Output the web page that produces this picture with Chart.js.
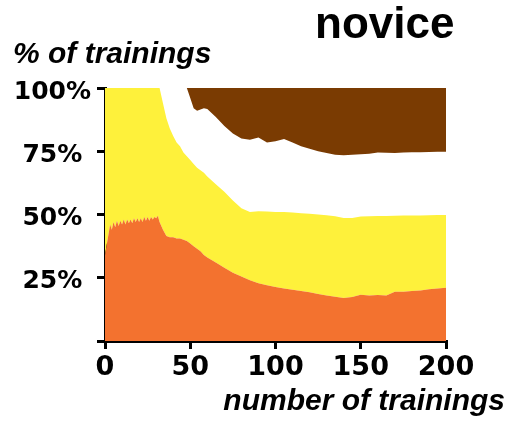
<!DOCTYPE html>
<html>
<head>
<meta charset="utf-8">
<script src="https://cdn.jsdelivr.net/npm/chart.js@4/dist/chart.umd.min.js"></script>
<style>
  html, body { margin: 0; padding: 0; background: #ffffff; }
  #wrap { width: 510px; height: 422px; }
</style>
</head>
<body>
<div id="wrap"><canvas id="c" width="510" height="422"></canvas></div>
<script>
// x positions (number of trainings)
const xs = [
  0,1,2,3,4,5,6,7,8,9,10,11,12,13,14,15,16,17,18,19,20,21,22,23,24,25,26,27,28,29,30,31,32,
  34,36,38,40,42,44,46,48,50,52,54,56,58,60,
  65,70,75,80,85,90,95,100,105,110,115,120,125,130,135,140,145,150,155,160,165,170,175,180,185,190,195,200
];
// upper boundary of the orange band (%)
const orangeTop = [
  34,38,42,46,44,47,45,47.5,45.5,47.5,46,48,46,48,46.5,48,46.5,48.5,47,48.5,47,48.5,47,49,47.5,49,47.5,49,48,49,48.5,49.5,47,
  44,41.5,41,41,40.5,40.5,40,39.5,38.5,37.5,36.5,35.5,34,33,
  31,29,27,25.5,24,22.8,22,21.3,20.8,20.3,19.8,19.3,18.6,18,17.5,17,17.4,18.3,18,18.2,18,19.5,19.5,19.8,20,20.5,20.8,21
];
// upper boundary of the yellow band (%)
const yellowTop = [
  100,100,100,100,100,100,100,100,100,100,100,100,100,100,100,100,100,100,100,100,100,100,100,100,100,100,100,100,100,100,100,100,100,
  94,88,84,81,78.5,77,74.5,73,71.5,70,68.5,67.5,66.5,65,
  62,59,55.5,52.5,51,51.3,51.2,51,51,50.8,50.5,50.3,50,49.7,49.3,48.6,48.6,49.2,49.3,49.4,49.4,49.5,49.6,49.6,49.6,49.7,49.8,49.8
];
// upper boundary of the white band = lower edge of the brown band (%)
const whiteTop = [
  100,100,100,100,100,100,100,100,100,100,100,100,100,100,100,100,100,100,100,100,100,100,100,100,100,100,100,100,100,100,100,100,100,
  100,100,100,100,100,100,100,100,96,92,91,91.5,92,91.7,
  88.5,85,82,80,79.5,80.4,78.5,79,79.8,78.5,77,76,75,74.3,73.6,73.4,73.6,73.8,74,74.5,74.4,74.3,74.5,74.6,74.6,74.7,74.8,74.8
];
const xTicks = [0, 50, 100, 150, 200];
const yTicks = [0, 25, 50, 75, 100];

const ORANGE = '#F3722F';
const YELLOW = '#FEF13B';
const BROWN = '#7A3B02';

const pts = arr => xs.map((x, i) => ({ x: x, y: arr[i] }));

const textPlugin = {
  id: 'texts',
  afterDraw(chart) {
    const ctx = chart.ctx;
    ctx.save();
    ctx.fillStyle = '#000';
    ctx.textBaseline = 'alphabetic';
    ctx.font = 'bold 44px "Liberation Sans", Arial, sans-serif';
    ctx.textAlign = 'left';
    ctx.fillText('novice', 315, 38);
    ctx.font = 'italic bold 30px "Liberation Sans", Arial, sans-serif';
    ctx.fillText('% of trainings', 13, 63);
    ctx.textAlign = 'right';
    ctx.fillText('number of trainings', 505, 410);
    ctx.restore();
  }
};

new Chart(document.getElementById('c'), {
  type: 'line',
  data: {
    datasets: [
      { data: pts(orangeTop), fill: 'origin', backgroundColor: ORANGE, borderWidth: 0, pointRadius: 0 },
      { data: pts(yellowTop), fill: '-1', backgroundColor: YELLOW, borderWidth: 0, pointRadius: 0 },
      { data: pts(whiteTop), fill: 'end', backgroundColor: BROWN, borderWidth: 0, pointRadius: 0 }
    ]
  },
  options: {
    responsive: false,
    animation: false,
    events: [],
    layout: { padding: { top: 88, right: 64, bottom: 0, left: 0 } },
    plugins: { legend: { display: false }, tooltip: { enabled: false }, title: { display: false } },
    elements: { line: { tension: 0 } },
    scales: {
      x: {
        type: 'linear', min: 0, max: 200,
        afterBuildTicks: s => { s.ticks = xTicks.map(v => ({ value: v })); },
        afterFit: s => { s.height = 81; },
        grid: { display: true, drawOnChartArea: false, drawTicks: true, tickLength: 8, color: '#000', lineWidth: 3 },
        border: { display: true, color: '#000', width: 3 },
        ticks: { color: '#000', padding: 3, maxRotation: 0, font: { family: '"DejaVu Sans"', weight: 'bold', size: 27 } }
      },
      y: {
        min: 0, max: 100,
        afterBuildTicks: s => { s.ticks = yTicks.map(v => ({ value: v })); },
        afterFit: s => { s.width = 105; },
        grid: { display: true, drawOnChartArea: false, drawTicks: true, tickLength: 8, color: '#000', lineWidth: 3 },
        border: { display: true, color: '#000', width: 3 },
        ticks: {
          color: '#000', padding: 6, crossAlign: 'center', labelOffset: 4,
          font: { family: '"DejaVu Sans"', weight: 'bold', size: 25 },
          callback: v => (v === 0 ? '' : v + '%')
        }
      }
    }
  },
  plugins: [textPlugin]
});
</script>
</body>
</html>
